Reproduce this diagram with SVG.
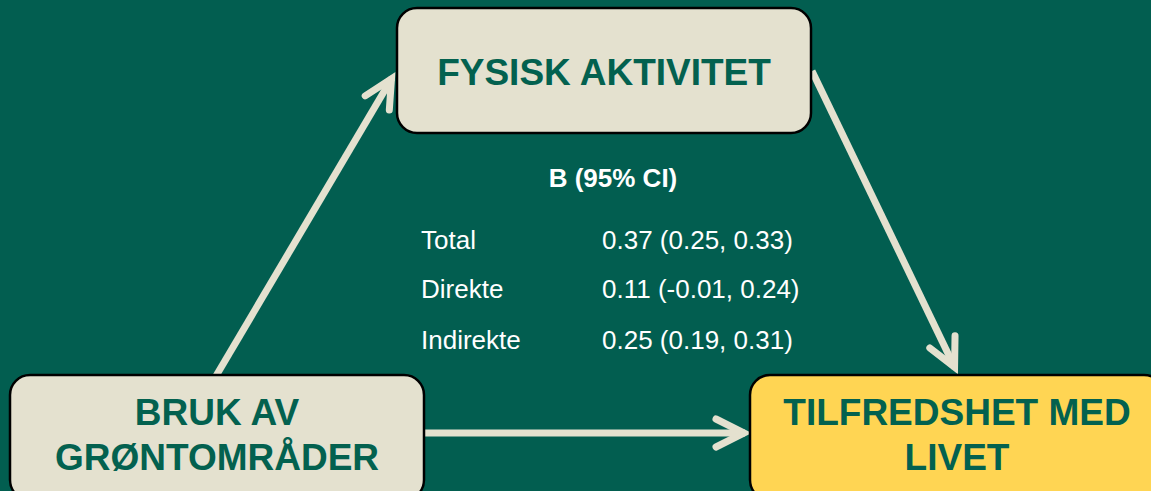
<svg xmlns="http://www.w3.org/2000/svg" width="1151" height="491" viewBox="0 0 1151 491">
<style>
.box{fill:#E4E1CF;stroke:#000;stroke-width:2.5}
.yellow{fill:#FFD553}
.lbl{font-family:"Liberation Sans",Arial,sans-serif;font-weight:bold;font-size:37px;fill:#03614F;text-anchor:middle}
.stat{font-family:"Liberation Sans",Arial,sans-serif;font-size:26px;fill:#FFFFFF}
.head{font-family:"Liberation Sans",Arial,sans-serif;font-size:26px;font-weight:bold;fill:#FFFFFF;text-anchor:middle}
.conn{fill:none;stroke:#E4E1CF;stroke-width:7}
</style>
<defs>
<marker id="arr" markerUnits="userSpaceOnUse" orient="auto" markerWidth="40" markerHeight="40" refX="0" refY="0" viewBox="-36 -20 40 40" overflow="visible">
<path d="M -29,-14 L -1,0 L -29,14" fill="none" stroke="#E4E1CF" stroke-width="7" stroke-linecap="round" stroke-linejoin="miter"/>
</marker>
</defs>
<rect width="1151" height="491" fill="#025E50"/>
<g id="connectors">
<path class="conn" d="M 216,376 L 392,78" marker-end="url(#arr)"/>
<path class="conn" d="M 812,71 L 955,368" marker-end="url(#arr)"/>
<path class="conn" d="M 424,433 L 745,433" marker-end="url(#arr)"/>
</g>
<g id="node-fysisk">
<rect class="box" x="397" y="8" width="414" height="125" rx="20"/>
<text class="lbl" x="604" y="85">FYSISK AKTIVITET</text>
</g>
<g id="node-bruk">
<rect class="box" x="10" y="375" width="414" height="125" rx="20"/>
<text class="lbl" x="217" y="425">BRUK AV</text>
<text class="lbl" x="217" y="470">GRØNTOMRÅDER</text>
</g>
<g id="node-tilfredshet">
<rect class="box yellow" x="750" y="375" width="414" height="125" rx="20"/>
<text class="lbl" x="957" y="425">TILFREDSHET MED</text>
<text class="lbl" x="957" y="470">LIVET</text>
</g>
<g id="stats">
<text class="head" x="613" y="187">B (95% CI)</text>
<text class="stat" x="421" y="249">Total</text>
<text class="stat" x="602" y="249">0.37 (0.25, 0.33)</text>
<text class="stat" x="421" y="298">Direkte</text>
<text class="stat" x="602" y="298">0.11 (-0.01, 0.24)</text>
<text class="stat" x="421" y="349">Indirekte</text>
<text class="stat" x="602" y="349">0.25 (0.19, 0.31)</text>
</g>
</svg>
